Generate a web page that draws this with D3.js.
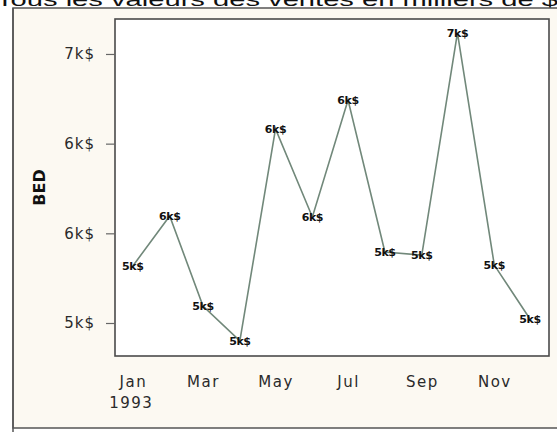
<!DOCTYPE html>
<html>
<head>
<meta charset="utf-8">
<script src="https://cdn.jsdelivr.net/npm/d3@7"></script>
<style>
    body { margin: 0; background: #ffffff; }
    svg { display: block; }
</style>
</head>
<body>
<div id="chart"></div>
<script>
// données : ventes mensuelles 1993 (BED)
const months = ["1993-01", "1993-02", "1993-03", "1993-04", "1993-05", "1993-06",
                "1993-07", "1993-08", "1993-09", "1993-10", "1993-11", "1993-12"];
const bed = [5318, 5597, 5095, 4900, 6082, 5591, 6243, 5396, 5379, 6617, 5323, 5022];
const yTicks = [5000, 5500, 6000, 6500];
const xTickMonths = ["1993-01", "1993-03", "1993-05", "1993-07", "1993-09", "1993-11"];
const title = "Tous les valeurs des ventes en milliers de $";
const yLabel = "BED";

let width = 557, height = 432;
let box = {left: 115, right: 549, top: 19, bottom: 356};
let parse = d3.timeParse("%Y-%m");
let fmtK = d => Math.round(d / 1000) + "k$";

let data = months.map((m, i) => ({date: parse(m), value: bed[i]}));

let svg = d3.select("#chart").append("svg")
    .attr("width", width)
    .attr("height", height);

// cadre extérieur
svg.append("rect")
    .attr("x", 13).attr("y", 8)
    .attr("width", 560).attr("height", 420)
    .attr("fill", "#fcf9f2")
    .attr("stroke", "#555").attr("stroke-width", 1.5);
svg.append("line")
    .attr("x1", 13).attr("x2", 13).attr("y1", 8).attr("y2", height)
    .attr("stroke", "#555").attr("stroke-width", 1.5);

// titre (coupé en haut comme dans l'original)
svg.append("text")
    .attr("x", -4).attr("y", 6)
    .attr("textLength", 562)
    .attr("lengthAdjust", "spacingAndGlyphs")
    .style("font-family", "Liberation Sans, Arial, sans-serif")
    .style("font-size", "18px")
    .attr("fill", "#111")
    .text(title);

let x = d3.scaleTime()
    .domain([new Date(1992, 11, 17), new Date(1993, 11, 17)])
    .range([box.left, box.right]);
let y = d3.scaleLinear()
    .domain([4816, 6695])
    .range([box.bottom, box.top]);

// zone du graphique
svg.append("rect")
    .attr("x", box.left).attr("y", box.top)
    .attr("width", box.right - box.left).attr("height", box.bottom - box.top)
    .attr("fill", "#ffffff")
    .attr("stroke", "#4a4a4a").attr("stroke-width", 1.6);

// axe Y
let yAxis = svg.append("g")
    .attr("transform", `translate(${box.left},0)`)
    .call(d3.axisLeft(y).tickValues(yTicks).tickFormat(fmtK).tickSize(9).tickPadding(11));
yAxis.select(".domain").remove();
yAxis.selectAll(".tick line").attr("stroke", "#666").attr("stroke-width", 1.2);
yAxis.selectAll(".tick text")
    .attr("fill", "#2a2a2a")
    .style("font-family", "DejaVu Sans, sans-serif")
    .style("font-size", "15px")
    .style("letter-spacing", "1px");

// axe X
let xAxis = svg.append("g")
    .attr("transform", `translate(0,${box.bottom})`)
    .call(d3.axisBottom(x).tickValues(xTickMonths.map(parse))
        .tickFormat(d3.timeFormat("%b")).tickSize(0).tickPadding(20));
xAxis.select(".domain").remove();
xAxis.selectAll(".tick text")
    .attr("fill", "#2a2a2a")
    .style("font-family", "DejaVu Sans, sans-serif")
    .style("font-size", "15px")
    .style("letter-spacing", "1.5px");
// année sous le premier mois
xAxis.select(".tick text")
    .append("tspan")
    .attr("x", -2).attr("dy", "1.45em")
    .text(d => d3.timeFormat("%Y")(d));

// titre de l'axe Y
svg.append("text")
    .attr("transform", `translate(45,${(box.top + box.bottom) / 2}) rotate(-90)`)
    .attr("text-anchor", "middle")
    .style("font-family", "DejaVu Sans, sans-serif")
    .style("font-size", "16px")
    .style("font-weight", "bold")
    .attr("fill", "#111")
    .text(yLabel);

// la courbe
let line = d3.line()
    .x(d => x(d.date))
    .y(d => y(d.value));
svg.append("path")
    .datum(data)
    .attr("fill", "none")
    .attr("stroke", "#71887a")
    .attr("stroke-width", 1.6)
    .attr("d", line);

// étiquettes des points
svg.append("g")
    .selectAll("text")
    .data(data)
    .join("text")
    .attr("x", d => x(d.date))
    .attr("y", d => y(d.value))
    .attr("dy", "0.35em")
    .attr("text-anchor", "middle")
    .style("font-family", "DejaVu Sans, sans-serif")
    .style("font-size", "11px")
    .style("font-weight", "bold")
    .style("letter-spacing", "-0.4px")
    .attr("fill", "#111")
    .text(d => fmtK(d.value));
</script>
</body>
</html>
